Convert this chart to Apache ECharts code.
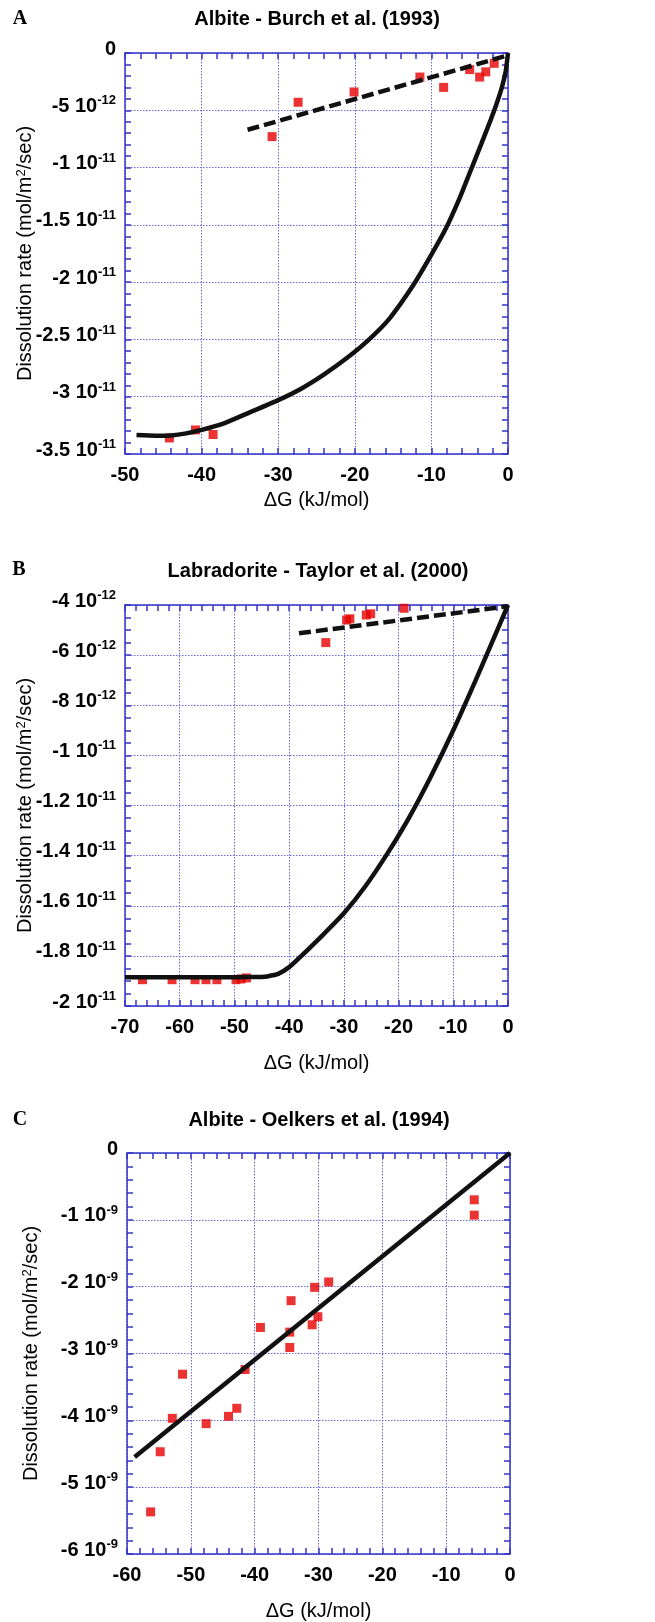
<!DOCTYPE html>
<html>
<head>
<meta charset="utf-8">
<script src="https://cdn.jsdelivr.net/npm/echarts@6/dist/echarts.min.js"></script>
<style>
  html, body { margin: 0; padding: 0; background: #fff; }
  #chart { width: 655px; height: 1622px; }
</style>
</head>
<body>
<div id="chart"></div>
<script>
// ---- Panel A: Albite, Burch et al. (1993); rates in units of 1e-12 mol/m2/s ----
const burchDeltaG = [-30.8, -27.4, -20.1, -11.5, -8.4, -5.0, -3.7, -2.9, -1.8, -44.2, -40.8, -38.5];
const burchRate   = [-7.3, -4.3, -3.4, -2.1, -3.0, -1.45, -2.1, -1.65, -0.9, -33.6, -32.9, -33.3];
const burchCurveDeltaG = [-48.5, -46, -44, -42, -40, -37, -34, -30, -27, -24, -21, -18.3, -15.5, -12.4, -10, -8.1, -6.4, -4.9, -3.5, -2.3, -1.5, -0.8, -0.3, 0];
const burchCurveRate   = [-33.35, -33.4, -33.38, -33.2, -32.9, -32.3, -31.45, -30.3, -29.3, -28.05, -26.6, -25.1, -23.2, -20.3, -17.6, -15.3, -12.8, -10.3, -7.95, -5.9, -4.45, -3.0, -1.6, 0];
const burchTrendDeltaG = [-34, -0.5];
const burchTrendRate   = [-6.7, -0.3];
const burchRateTicks = ['0', '-5 10^-12', '-1 10^-11', '-1.5 10^-11', '-2 10^-11', '-2.5 10^-11', '-3 10^-11', '-3.5 10^-11'];

// ---- Panel B: Labradorite, Taylor et al. (2000); rates in units of 1e-12 mol/m2/s ----
const taylorDeltaG = [-33.3, -29.5, -28.9, -25.9, -25.1, -19.0, -66.8, -61.4, -57.2, -55.2, -53.2, -49.7, -48.8, -47.8];
const taylorRate   = [-5.5, -4.6, -4.55, -4.4, -4.35, -4.13, -18.95, -18.95, -18.95, -18.95, -18.95, -18.95, -18.92, -18.88];
const taylorCurveDeltaG = [-70, -60, -50, -45, -44, -42, -40, -38, -34, -30, -26, -22, -18, -14, -10, -6, -3, 0];
const taylorCurveRate   = [-18.85, -18.85, -18.85, -18.84, -18.82, -18.72, -18.45, -18.05, -17.2, -16.3, -15.2, -13.9, -12.45, -10.8, -9.0, -7.05, -5.53, -4.0];
const taylorTrendDeltaG = [-38.2, 0];
const taylorTrendRate   = [-5.13, -4.05];
const taylorRateTicks = ['-4 10^-12', '-6 10^-12', '-8 10^-12', '-1 10^-11', '-1.2 10^-11', '-1.4 10^-11', '-1.6 10^-11', '-1.8 10^-11', '-2 10^-11'];

// ---- Panel C: Albite, Oelkers et al. (1994); rates in units of 1e-9 mol/m2/s ----
const oelkersDeltaG = [-5.6, -5.6, -28.4, -30.6, -34.3, -30.1, -31.0, -39.1, -34.5, -34.5, -41.5, -51.3, -42.8, -44.1, -52.9, -47.6, -54.8, -56.3];
const oelkersRate   = [-0.70, -0.93, -1.93, -2.01, -2.21, -2.45, -2.57, -2.61, -2.68, -2.91, -3.24, -3.31, -3.82, -3.94, -3.97, -4.05, -4.47, -5.37];
const oelkersLineDeltaG = [-58.8, 0];
const oelkersLineRate   = [-4.55, 0];
const oelkersRateTicks = ['0', '-1 10^-9', '-2 10^-9', '-3 10^-9', '-4 10^-9', '-5 10^-9', '-6 10^-9'];

const SANS = '"Liberation Sans", Arial, Helvetica, sans-serif';
const SERIF = '"Liberation Serif", "Times New Roman", serif';
const FRAME = '#3434c8';
const GRID_COLOR = '#6b6be0';
const MARK_RED = '#e60000';
const INK = '#111111';

const pairs = (xs, ys) => xs.map((x, i) => [x, ys[i]]);

// Turn "-5 10^-12" into rich text with a raised exponent
function tickText(labels, max, interval, v) {
  const idx = Math.round((max - v) / interval);
  const s = labels[idx];
  if (s === undefined) return '';
  const parts = s.split('^');
  return parts.length > 1 ? '{m|' + parts[0] + '}{e|' + parts[1] + '}' : '{m|' + s + '}';
}

const tickLine = { color: FRAME, width: 1.5 };

function panelAxes(g, p) {
  const xs = [
    {
      gridIndex: g, type: 'value', position: 'bottom',
      min: p.xMin, max: 0, interval: 10,
      axisLine: { show: true, onZero: false, lineStyle: { color: FRAME, width: 1.5 } },
      axisTick: { show: true, inside: true, length: 6, lineStyle: tickLine },
      minorTick: { show: true, splitNumber: 5, length: 6, lineStyle: tickLine },
      splitLine: { show: true, lineStyle: { color: GRID_COLOR, width: 1, type: [1.5, 1.5] } },
      axisLabel: { margin: 11, color: '#000', fontFamily: SANS, fontSize: 20, fontWeight: 'bold' },
      name: 'ΔG (kJ/mol)', nameLocation: 'middle', nameGap: p.xNameGap, nameMoveOverlap: false,
      nameTextStyle: { color: '#000', fontFamily: SANS, fontSize: 20 }
    },
    {
      gridIndex: g, type: 'value', position: 'top',
      min: p.xMin, max: 0, interval: 10,
      axisLine: { show: true, onZero: false, lineStyle: { color: FRAME, width: 1.5 } },
      axisTick: { show: true, inside: true, length: 6, lineStyle: tickLine },
      minorTick: { show: true, splitNumber: 5, length: 6, lineStyle: tickLine },
      splitLine: { show: false },
      axisLabel: { show: false }
    }
  ];
  const ys = [
    {
      gridIndex: g, type: 'value', position: 'left',
      min: p.yMin, max: p.yMax, interval: p.yInterval,
      axisLine: { show: true, onZero: false, lineStyle: { color: FRAME, width: 1.5 } },
      axisTick: { show: true, inside: true, length: 6, lineStyle: tickLine },
      minorTick: { show: true, splitNumber: p.yMinor, length: 6, lineStyle: tickLine },
      splitLine: { show: true, lineStyle: { color: GRID_COLOR, width: 1, type: [1.5, 1.5] } },
      axisLabel: {
        margin: 9, color: '#000', padding: [0, 0, 8, 0],
        formatter: v => tickText(p.yTicks, p.yMax, p.yInterval, v),
        rich: {
          m: { fontFamily: SANS, fontSize: 20, fontWeight: 'bold', color: '#000', lineHeight: 24 },
          e: { fontFamily: SANS, fontSize: 13, fontWeight: 'bold', color: '#000', lineHeight: 14, verticalAlign: 'top' }
        }
      },
      name: 'Dissolution rate (mol/m{s|2}/sec)', nameLocation: 'middle', nameGap: p.yNameGap, nameMoveOverlap: false,
      nameTextStyle: {
        color: '#000', fontFamily: SANS, fontSize: 20,
        rich: { s: { fontFamily: SANS, fontSize: 13, color: '#000', verticalAlign: 'top', lineHeight: 13 } }
      }
    },
    {
      gridIndex: g, type: 'value', position: 'right',
      min: p.yMin, max: p.yMax, interval: p.yInterval,
      axisLine: { show: true, onZero: false, lineStyle: { color: FRAME, width: 1.5 } },
      axisTick: { show: true, inside: true, length: 6, lineStyle: tickLine },
      minorTick: { show: true, splitNumber: p.yMinor, length: 6, lineStyle: tickLine },
      splitLine: { show: false },
      axisLabel: { show: false }
    }
  ];
  return { xs, ys };
}

const panels = [
  { xMin: -50, yMin: -35, yMax: 0, yInterval: 5, yMinor: 5, yTicks: burchRateTicks, xNameGap: 36, yNameGap: 90 },
  { xMin: -70, yMin: -20, yMax: -4, yInterval: 2, yMinor: 4, yTicks: taylorRateTicks, xNameGap: 47, yNameGap: 90 },
  { xMin: -60, yMin: -6, yMax: 0, yInterval: 1, yMinor: 5, yTicks: oelkersRateTicks, xNameGap: 47, yNameGap: 86 }
];

const xAxes = [], yAxes = [];
panels.forEach((p, g) => {
  const a = panelAxes(g, p);
  xAxes.push(...a.xs);
  yAxes.push(...a.ys);
});

function scatter(g, xs, ys) {
  return {
    type: 'scatter', xAxisIndex: 2 * g, yAxisIndex: 2 * g,
    data: pairs(xs, ys), symbol: 'rect', symbolSize: 9,
    itemStyle: { color: MARK_RED }, z: 3
  };
}
function curve(g, xs, ys, dashed) {
  return {
    type: 'line', xAxisIndex: 2 * g, yAxisIndex: 2 * g,
    data: pairs(xs, ys), showSymbol: false,
    smooth: dashed ? false : 0.2,
    lineStyle: { color: INK, width: 4.5, type: dashed ? [12, 5] : 'solid', cap: 'butt' },
    z: 4, silent: true
  };
}

const titleStyle = { fontFamily: SANS, fontSize: 20, fontWeight: 'bold', fill: '#000', align: 'center', verticalAlign: 'middle' };
const letterStyle = { fontFamily: SERIF, fontSize: 20, fontWeight: 'bold', fill: '#000', align: 'center', verticalAlign: 'middle' };

const option = {
  animation: false,
  backgroundColor: '#ffffff',
  grid: [
    { left: 125, top: 53, width: 383, height: 401 },
    { left: 125, top: 605, width: 383, height: 401 },
    { left: 127, top: 1153, width: 383, height: 401 }
  ],
  xAxis: xAxes,
  yAxis: yAxes,
  graphic: [
    { type: 'text', x: 20, y: 19, style: Object.assign({ text: 'A' }, letterStyle) },
    { type: 'text', x: 317, y: 19, style: Object.assign({ text: 'Albite - Burch et al. (1993)' }, titleStyle) },
    { type: 'text', x: 19, y: 570, style: Object.assign({ text: 'B' }, letterStyle) },
    { type: 'text', x: 318, y: 571, style: Object.assign({ text: 'Labradorite - Taylor et al. (2000)' }, titleStyle) },
    { type: 'text', x: 20, y: 1120, style: Object.assign({ text: 'C' }, letterStyle) },
    { type: 'text', x: 319, y: 1120, style: Object.assign({ text: 'Albite - Oelkers et al. (1994)' }, titleStyle) }
  ],
  series: [
    scatter(0, burchDeltaG, burchRate),
    curve(0, burchCurveDeltaG, burchCurveRate, false),
    curve(0, burchTrendDeltaG, burchTrendRate, true),
    scatter(1, taylorDeltaG, taylorRate),
    curve(1, taylorCurveDeltaG, taylorCurveRate, false),
    curve(1, taylorTrendDeltaG, taylorTrendRate, true),
    scatter(2, oelkersDeltaG, oelkersRate),
    curve(2, oelkersLineDeltaG, oelkersLineRate, false)
  ]
};

const chart = echarts.init(document.getElementById('chart'), null, { renderer: 'canvas' });
chart.setOption(option);
</script>
</body>
</html>
